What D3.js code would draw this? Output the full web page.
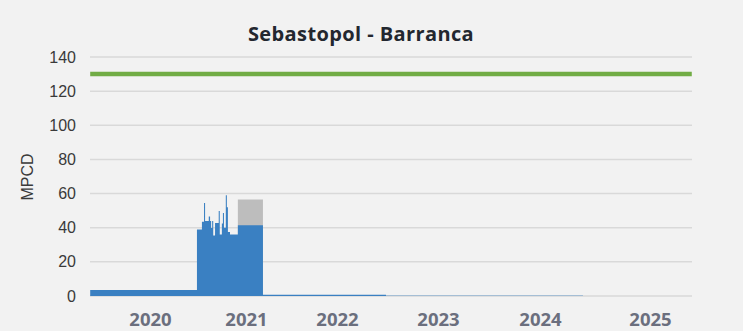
<!DOCTYPE html>
<html>
<head>
<meta charset="utf-8">
<script src="https://cdn.jsdelivr.net/npm/d3@7"></script>
<style>
  html, body { margin: 0; padding: 0; background: #f2f2f2; }
  svg { display: block; }
</style>
</head>
<body>
<svg id="chart" width="743" height="331"></svg>
<script>
// Daily flow (MPCD), step values starting at each date
const flowDates = [
  "2019-05-18", "2020-06-28", "2020-07-17", "2020-07-25", "2020-07-29",
  "2020-08-12", "2020-08-17", "2020-08-21", "2020-08-25", "2020-08-29",
  "2020-09-05", "2020-09-19", "2020-09-23", "2020-10-01", "2020-10-05",
  "2020-10-09", "2020-10-16", "2020-10-20", "2020-10-24", "2020-11-01",
  "2020-12-01", "2021-03-10", "2022-06-27"
];
const flowValues = [
  3.5, 39, 43.5, 54.5, 44,
  46.5, 44, 39.8, 44, 35.5,
  42.7, 49.8, 36, 42.5, 48.6,
  40, 59, 52, 37.5, 36,
  41.5, 0.8, 0.8
];

// Minor residual flow afterwards
const minorDates = ["2022-06-27", "2024-05-23"];
const minorValues = [0.6, 0.6];

// Reserved / contracted volume above the measured flow
const reservedDates = ["2020-12-01", "2021-03-10"];
const reservedValues = [56.5, 56.5];

// Capacity line
const capacityDates = ["2019-05-18", "2025-05-20"];
const capacityValues = [130, 130];

const yTicks = [0, 20, 40, 60, 80, 100, 120, 140];
const yearTicks = ["2020", "2021", "2022", "2023", "2024", "2025"];

const parse = d3.utcParse("%Y-%m-%d");
const svg = d3.select("#chart");

const plotLeft = 90, plotRight = 692, plotTop = 57, plotBottom = 296;

// Year positions follow the category-style spacing of the source axis
const x = d3.scaleUtc()
  .domain(yearTicks.map(yr => parse(yr + "-01-01")))
  .range([150, 246, 337, 438, 540, 650]);

const y = d3.scaleLinear().domain([0, 140]).range([plotBottom, plotTop]);

// Title
svg.append("text")
  .attr("x", 361).attr("y", 41)
  .attr("text-anchor", "middle")
  .attr("font-family", "'Open Sans', sans-serif")
  .attr("font-weight", 700)
  .attr("font-size", 20)
  .attr("letter-spacing", 0.4)
  .attr("fill", "#23272f")
  .text("Sebastopol - Barranca");

// Gridlines
svg.append("g").selectAll("line").data(yTicks).join("line")
  .attr("x1", plotLeft).attr("x2", plotRight)
  .attr("y1", d => y(d)).attr("y2", d => y(d))
  .attr("stroke", "#d9d9d9").attr("stroke-width", 1.5);

// Y axis
const yAxis = svg.append("g")
  .attr("transform", `translate(${plotLeft},0)`)
  .call(d3.axisLeft(y).tickValues(yTicks).tickSize(0).tickPadding(14));
yAxis.select(".domain").remove();
yAxis.selectAll("text")
  .attr("font-family", "'Liberation Sans', Arial, sans-serif")
  .attr("font-size", 16).attr("fill", "#3a3a3a");

svg.append("text")
  .attr("transform", "translate(33,177) rotate(-90)")
  .attr("text-anchor", "middle")
  .attr("font-family", "'Liberation Sans', Arial, sans-serif")
  .attr("font-size", 16).attr("fill", "#3a3a3a")
  .text("MPCD");

// X axis (years)
const xAxis = svg.append("g")
  .attr("transform", `translate(0,${plotBottom})`)
  .call(d3.axisBottom(x)
    .tickValues(yearTicks.map(yr => parse(yr + "-01-01")))
    .tickFormat(d3.utcFormat("%Y"))
    .tickSize(0).tickPadding(17));
xAxis.select(".domain").remove();
xAxis.selectAll("text")
  .attr("font-family", "'Open Sans', sans-serif")
  .attr("font-weight", 700)
  .attr("font-size", 18.5).attr("fill", "#6b6f7e");

const area = d3.area()
  .curve(d3.curveStepAfter)
  .x(d => x(d.date)).y0(y(0)).y1(d => y(d.value));

const toSeries = (dates, values) => dates.map((d, i) => ({ date: parse(d), value: values[i] }));

svg.append("path")
  .datum(toSeries(reservedDates, reservedValues))
  .attr("d", area).attr("fill", "#bdbdbd");

svg.append("path")
  .datum(toSeries(flowDates, flowValues))
  .attr("d", area).attr("fill", "#3a80c2");

svg.append("path")
  .datum(toSeries(minorDates, minorValues))
  .attr("d", area).attr("fill", "#3a80c2").attr("fill-opacity", 0.35);

svg.append("path")
  .datum(toSeries(capacityDates, capacityValues))
  .attr("d", d3.line().x(d => x(d.date)).y(d => y(d.value)))
  .attr("fill", "none").attr("stroke", "#71ac45").attr("stroke-width", 4.5);
</script>
</body>
</html>
